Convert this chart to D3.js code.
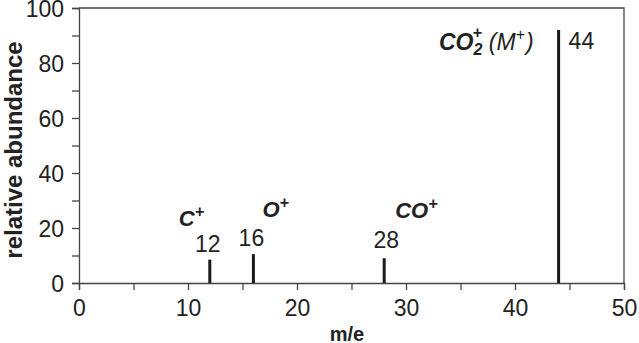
<!DOCTYPE html>
<html>
<head>
<meta charset="utf-8">
<script src="https://cdn.jsdelivr.net/npm/d3@7"></script>
<style>
  body { margin: 0; background: #fff; }
  svg { display: block; font-family: "Liberation Sans", Arial, sans-serif; }
</style>
</head>
<body>
<svg id="chart" width="639" height="343"></svg>
<script>
// peak data
var massCharge = [12, 16, 28, 44];
var abundance = [8.5, 10.5, 9, 92];
var ionNames = ["C", "O", "CO", "CO2"];
var xTicks = [0, 10, 20, 30, 40, 50];
var yTicks = [0, 20, 40, 60, 80, 100];

var width = 639, height = 343;
var margin = {top: 8, right: 15, bottom: 60, left: 79};
var svg = d3.select("#chart");
var ink = "#222";

var x = d3.scaleLinear().domain([0, 50]).range([margin.left, width - margin.right]);
var y = d3.scaleLinear().domain([0, 100]).range([height - margin.bottom, margin.top]);

// frame: top and right edges
svg.append("path")
    .attr("d", `M${x(0)},${y(100)}H${x(50)}V${y(0)}`)
    .attr("fill", "none")
    .attr("stroke", "#444")
    .attr("stroke-width", 1.3);

var xAxis = svg.append("g")
    .attr("transform", `translate(0,${y(0)})`)
    .call(d3.axisBottom(x).tickValues(d3.range(0, 51, 5)).tickSize(7).tickFormat(d => xTicks.includes(d) ? d : ""));
var yAxis = svg.append("g")
    .attr("transform", `translate(${x(0)},0)`)
    .call(d3.axisLeft(y).tickValues(d3.range(0, 101, 10)).tickSize(7).tickFormat(d => yTicks.includes(d) ? d : ""));

[xAxis, yAxis].forEach(function(a) {
    a.select(".domain").attr("stroke", "#444").attr("stroke-width", 1.3);
    a.selectAll(".tick line").attr("stroke", "#444").attr("stroke-width", 1.3);
    a.selectAll("text")
        .attr("fill", ink)
        .style("font-size", "23px")
        .style("font-family", "'Liberation Sans', Arial, sans-serif");
});
xAxis.selectAll("text").attr("y", 33).attr("dy", 0);
yAxis.selectAll("text").attr("x", -15).attr("dy", "0.36em");

// axis titles
svg.append("text")
    .attr("x", 347).attr("y", 341)
    .attr("text-anchor", "middle")
    .attr("font-weight", "bold")
    .attr("font-size", 20)
    .attr("fill", ink)
    .text("m/e");
svg.append("text")
    .attr("transform", `translate(22,150) rotate(-90)`)
    .attr("text-anchor", "middle")
    .attr("font-weight", "bold")
    .attr("font-size", 24)
    .attr("fill", ink)
    .text("relative abundance");

// peaks
svg.append("g")
    .selectAll("line")
    .data(massCharge)
    .join("line")
    .attr("x1", d => x(d)).attr("x2", d => x(d))
    .attr("y1", y(0))
    .attr("y2", (d, i) => y(abundance[i]))
    .attr("stroke", "#1a1a1a")
    .attr("stroke-width", 3);

// m/e numbers next to each peak
var numPos = [[-2, 252, "middle"], [-2, 246, "middle"], [2, 248, "middle"], [10, 49, "start"]];
svg.append("g")
    .selectAll("text")
    .data(massCharge)
    .join("text")
    .attr("x", (d, i) => x(d) + numPos[i][0])
    .attr("y", (d, i) => numPos[i][1])
    .attr("text-anchor", (d, i) => numPos[i][2])
    .attr("font-size", 23)
    .attr("fill", ink)
    .text(d => d);

// ion labels
function ion(name, px, py) {
    var t = svg.append("text")
        .attr("x", px).attr("y", py)
        .attr("font-size", 22)
        .attr("font-weight", "bold")
        .attr("font-style", "italic")
        .attr("fill", ink);
    t.append("tspan").text(name);
    t.append("tspan").attr("dy", -9).attr("font-size", 16).text("+");
    return t;
}
ion(ionNames[0], x(massCharge[0]) - 31, 226);
ion(ionNames[1], x(massCharge[1]) + 9, 217);
ion(ionNames[2], x(massCharge[2]) + 11, 218);

// CO2+ (M+)
var co2 = svg.append("text")
    .attr("x", x(massCharge[3]) - 25).attr("y", 50)
    .attr("text-anchor", "end")
    .attr("font-size", 23)
    .attr("font-style", "italic")
    .attr("fill", ink);
co2.append("tspan").attr("font-weight", "bold").text("CO");
co2.append("tspan").attr("font-weight", "bold").attr("font-size", 16).attr("dy", 5).text("2");
co2.append("tspan").attr("font-weight", "bold").attr("font-size", 16).attr("dx", -10).attr("dy", -17).text("+");
co2.append("tspan").attr("dy", 12).attr("dx", 7).text("(M");
co2.append("tspan").attr("font-size", 16).attr("dy", -10).text("+");
co2.append("tspan").attr("dy", 10).attr("dx", 1).text(")");
</script>
</body>
</html>
